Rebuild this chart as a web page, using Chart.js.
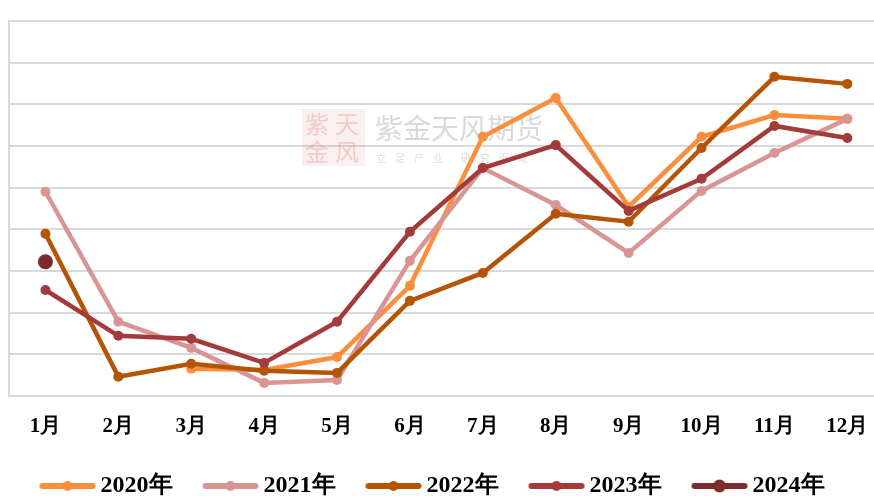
<!DOCTYPE html>
<html lang="zh">
<head>
<meta charset="UTF-8">
<title>月度走势</title>
<script src="https://cdn.jsdelivr.net/npm/chart.js"></script>
<style>
    html, body { margin: 0; padding: 0; background: #fff; overflow: hidden; }
    #wrap { width: 874px; height: 496px; position: relative; }
</style>
</head>
<body>
<div id="wrap"><canvas id="tu"></canvas></div>
<script>
    const months = ['1月', '2月', '3月', '4月', '5月', '6月', '7月', '8月', '9月', '10月', '11月', '12月'];
    const years = ['2020年', '2021年', '2022年', '2023年', '2024年'];
    const colors = ['#F98E3C', '#D99594', '#B55405', '#A33B3B', '#7B2C2C'];

    const s2020 = [null, null, 0.65, 0.62, 0.93, 2.64, 6.22, 7.15, 4.54, 6.22, 6.74, 6.65];
    const s2021 = [4.90, 1.78, 1.15, 0.31, 0.38, 3.24, 5.47, 4.58, 3.43, 4.92, 5.83, 6.65];
    const s2022 = [3.89, 0.46, 0.77, 0.60, 0.55, 2.28, 2.95, 4.37, 4.18, 5.95, 7.66, 7.49];
    const s2023 = [2.54, 1.44, 1.37, 0.79, 1.78, 3.94, 5.47, 6.02, 4.44, 5.21, 6.48, 6.19];
    const s2024 = [3.22, null, null, null, null, null, null, null, null, null, null, null];
    const series = [s2020, s2021, s2022, s2023, s2024];

    const fontFam = '"Liberation Serif", "Times New Roman", serif';

    // legend marker: short thick line with a dot, shifted right inside the image
    function marker(color, r) {
        const c = document.createElement('canvas');
        c.width = 72; c.height = 16;
        const g = c.getContext('2d');
        g.strokeStyle = color; g.lineWidth = 6; g.lineCap = 'round';
        g.beginPath(); g.moveTo(17, 8); g.lineTo(67, 8); g.stroke();
        g.fillStyle = color;
        g.beginPath(); g.arc(42, 8, r, 0, Math.PI * 2); g.fill();
        return c;
    }
    const markers = colors.map((c, i) => marker(c, i === 4 ? 6.5 : 5));

    const shuiyin = {
        id: 'shuiyin',
        beforeDatasetsDraw(chart) {
            const g = chart.ctx;
            g.save();
            g.fillStyle = 'rgba(225, 140, 140, 0.14)';
            g.fillRect(302, 109, 63, 57);
            g.fillStyle = 'rgba(215, 110, 110, 0.28)';
            g.font = '24px "Noto Sans CJK SC"';
            g.textBaseline = 'middle';
            g.fillText('紫', 305, 124);
            g.fillText('天', 335, 124);
            g.fillText('金', 305, 152);
            g.fillText('风', 335, 152);
            g.fillStyle = 'rgba(170, 170, 170, 0.45)';
            g.font = '28px "Noto Sans CJK SC"';
            g.fillText('紫金天风期货', 375, 128);
            g.font = '10px "Noto Sans CJK SC"';
            g.fillStyle = 'rgba(170, 170, 170, 0.4)';
            g.fillText('立    足    产    业        研    究    驱    动', 376, 158);
            g.restore();
        }
    };

    // nudge the legend a little to the left, like the original
    const legendShift = {
        id: 'legendShift',
        afterLayout(chart) {
            chart.legend.left -= 12;
            chart.legend.right -= 12;
        }
    };

    new Chart(document.getElementById('tu'), {
        type: 'line',
        data: {
            datasets: series.map((s, i) => ({
                label: years[i],
                data: s.map((v, j) => ({ x: j + 1, y: v })),
                borderColor: colors[i],
                backgroundColor: colors[i],
                borderWidth: 4.5,
                pointRadius: i === 4 ? 7.5 : 5,
                pointBorderWidth: 0,
                tension: 0,
                order: 4 - i
            }))
        },
        options: {
            responsive: true,
            maintainAspectRatio: false,
            animation: false,
            layout: { autoPadding: false, padding: { left: 9, top: 21, right: 0, bottom: -12 } },
            scales: {
                x: {
                    type: 'linear',
                    min: 0.5,
                    max: 12.366,
                    grid: { display: false },
                    border: { display: false },
                    afterBuildTicks: ax => { ax.ticks = months.map((_, i) => ({ value: i + 1 })); },
                    afterFit: ax => { ax.paddingLeft = 0; ax.paddingRight = 0; },
                    ticks: {
                        autoSkip: false,
                        maxRotation: 0,
                        padding: 10,
                        color: '#000',
                        font: { family: fontFam, size: 21, weight: 'bold' },
                        callback: v => months[v - 1] || ''
                    }
                },
                y: {
                    min: 0,
                    max: 9,
                    ticks: { display: false, stepSize: 1 },
                    grid: { color: '#d9d9d9', lineWidth: 2, drawTicks: false },
                    border: { display: true, color: '#d9d9d9', width: 2 }
                }
            },
            plugins: {
                legend: {
                    position: 'bottom',
                    labels: {
                        usePointStyle: true,
                        pointStyleWidth: 54,
                        padding: 25,
                        color: '#000',
                        font: { family: fontFam, size: 24, weight: 'bold' },
                        sort: (a, b) => a.datasetIndex - b.datasetIndex,
                        generateLabels: chart => Chart.defaults.plugins.legend.labels.generateLabels(chart)
                            .map(l => Object.assign(l, { pointStyle: markers[l.datasetIndex] }))
                    }
                },
                tooltip: { enabled: false }
            }
        },
        plugins: [shuiyin, legendShift]
    });
</script>
</body>
</html>
